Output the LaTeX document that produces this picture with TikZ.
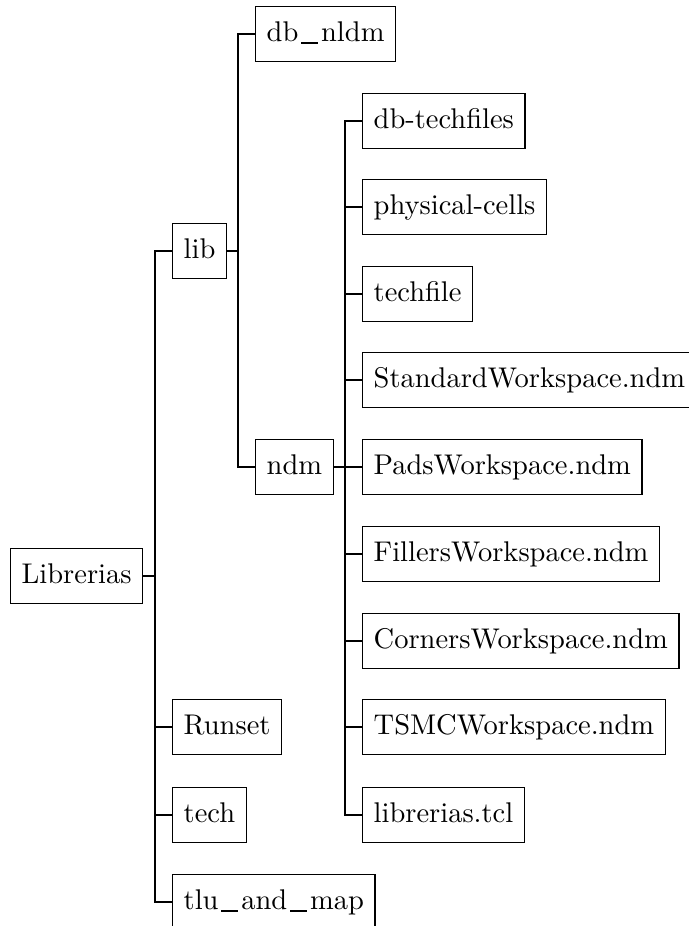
\documentclass[tikz,border=0pt]{standalone}
\newcommand{\usc}{\kern0.1em\rule[-1.1pt]{0.6em}{0.9pt}\kern0.1em}
\begin{document}
\begin{tikzpicture}[x=0.351pt,y=-0.351pt,
  box/.style={draw,anchor=west,inner xsep=3.9pt,text height=7pt,text depth=2pt,minimum height=19.3pt},
  link/.style={draw,line width=0.4pt}]
\useasboundingbox (0,0) rectangle (689,926);
\clip (0,0) rectangle (689,926);

% level 0
\node[box] (root) at (10,576) {Librerias};
% level 1
\node[box] (lib)    at (172,251) {lib};
\node[box] (runset) at (172,727) {Runset};
\node[box] (tech)   at (172,815) {tech};
\node[box] (tlu)    at (172,902) {tlu\usc and\usc map};
% level 2
\node[box] (dbnldm) at (255,34)  {db\usc nldm};
\node[box] (ndm)    at (255,467) {ndm};
% level 3
\node[box] (dbtech)   at (362,121) {db-techfiles};
\node[box] (phys)     at (362,207) {physical-cells};
\node[box] (techfile) at (362,294) {techfile};
\node[box] (stdws)    at (362,380) {StandardWorkspace.ndm};
\node[box] (padsws)   at (362,467) {PadsWorkspace.ndm};
\node[box] (fillws)   at (362,554) {FillersWorkspace.ndm};
\node[box] (cornws)   at (362,641) {CornersWorkspace.ndm};
\node[box] (tsmcws)   at (362,727) {TSMCWorkspace.ndm};
\node[box] (libtcl)   at (362,815) {librerias.tcl};

% branching points
\coordinate (jroot) at (155,576);
\coordinate (jlib)  at (238,251);
\coordinate (jndm)  at (345,467);

\draw[link] (root.east) -- (jroot);
\foreach \c in {lib,runset,tech,tlu}
  \draw[link] (jroot) |- (\c.west);

\draw[link] (lib.east) -- (jlib);
\foreach \c in {dbnldm,ndm}
  \draw[link] (jlib) |- (\c.west);

\draw[link] (ndm.east) -- (jndm);
\foreach \c in {dbtech,phys,techfile,stdws,padsws,fillws,cornws,tsmcws,libtcl}
  \draw[link] (jndm) |- (\c.west);
\end{tikzpicture}
\end{document}
